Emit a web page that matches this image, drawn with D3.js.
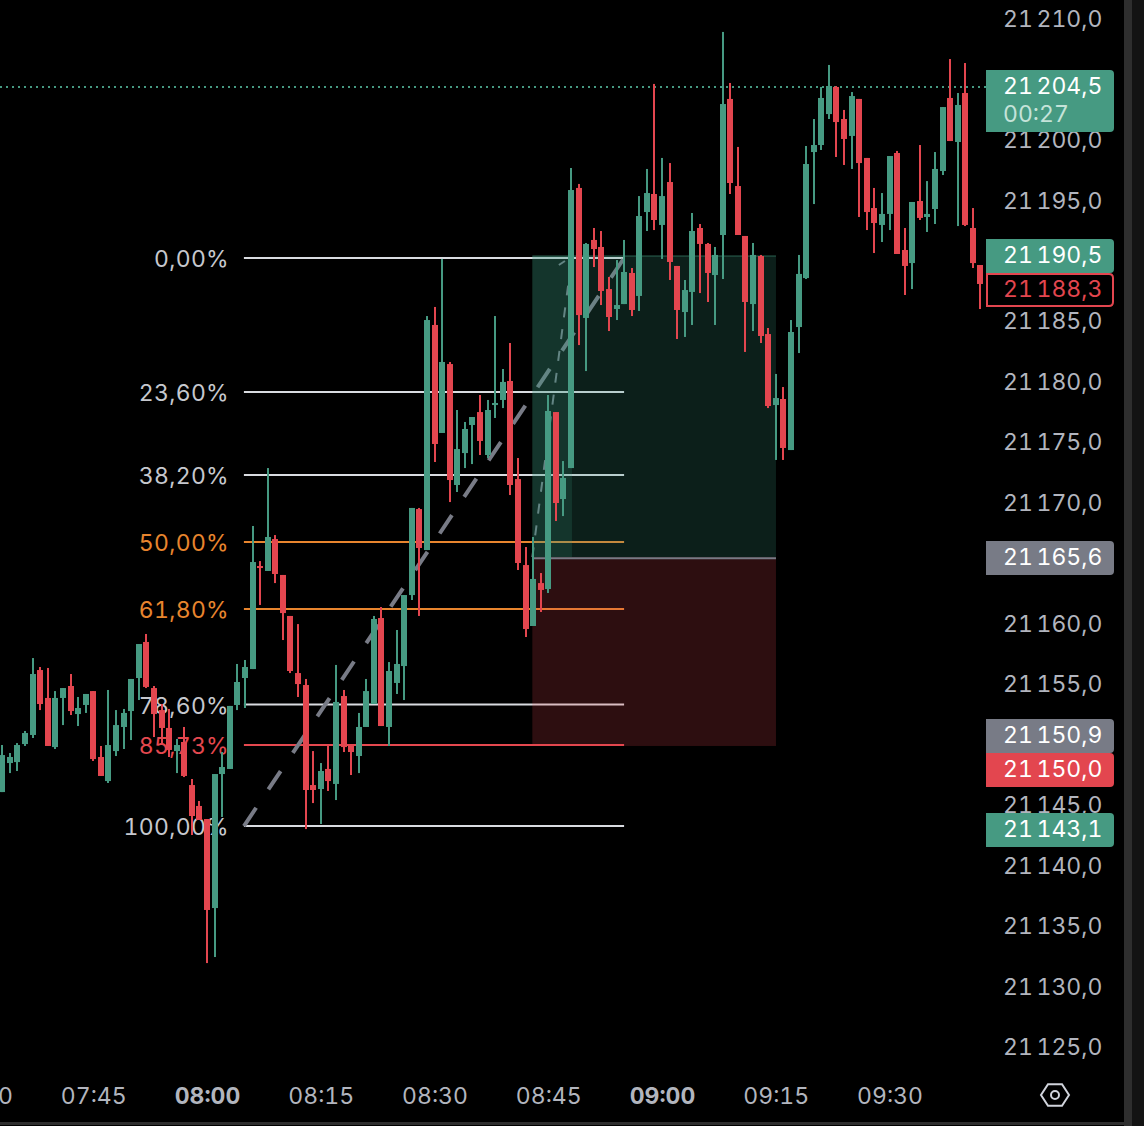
<!DOCTYPE html>
<html><head><meta charset="utf-8">
<script src="https://cdnjs.cloudflare.com/ajax/libs/d3/7.8.5/d3.min.js"></script>
<style>html,body{margin:0;padding:0;background:#000;overflow:hidden}svg{display:block}text{font-family:Inter,"Noto Sans",sans-serif;letter-spacing:0;word-spacing:-2.5px;font-variant-numeric:tabular-nums;font-feature-settings:"tnum" 1}.fibtxt{letter-spacing:0.3px}</style>
</head><body><svg id="c" width="1144" height="1126"></svg>
<script>
const firstMinute = 453; // 07:33
const opens = [21146.08,21148.48,21148.56,21150.05,21150.80,21156.17,21153.86,21149.80,21153.86,21154.85,21152.53,21153.28,21154.43,21148.98,21146.99,21149.47,21151.46,21152.78,21155.51,21158.49,21154.68,21152.86,21151.38,21149.47,21150.22,21146.66,21144.93,
21143.85,21136.49,21147.57,21147.99,21153.28,21155.51,21156.25,21164.77,21164.36,21167.00,21164.03,21160.64,21155.92,21154.93,21146.66,21146.33,21147.99,21146.75,21154.02,21149.97,21149.06,21151.46,21153.36,21160.47,21151.46,21155.10,21156.50,21162.37,21169.48,21166.09,21184.70,21175.77,21181.47,21171.47,21174.11,21176.43,21177.50,21173.95,21178.08,21178.50,21180.07,21171.96,21164.85,21159.81,21163.36,21162.87,21177.50,21170.31,21172.87,21196.03,21185.28,21191.73,21191.15,21187.67,21186.02,21186.43,21189.00,21187.10,21194.04,21195.53,21192.97,21196.52,21189.58,21185.77,21187.43,21192.72,21191.40,21188.83,21192.14,21203.39,21196.19,21192.06,21186.43,21190.40,21183.95,21178.08,21178.58,21174.36,21184.53,21188.58,21199.00,21199.58,21202.14,21204.38,21201.73,21200.33,21203.39,21198.51,21194.37,21192.97,21193.88,21198.92,21190.90,21189.82,21194.95,21193.63,21194.29,21197.43,21203.47,21199.83,21203.88,21192.72,21189.66];
const highs = [21149.97,21149.31,21150.13,21151.13,21157.16,21156.42,21156.34,21154.43,21154.68,21155.84,21153.94,21154.19,21154.43,21149.89,21154.52,21152.86,21152.95,21155.43,21158.32,21159.15,21154.85,21153.36,21152.95,21150.47,21151.46,21147.16,21145.34,
21143.85,21147.57,21149.39,21153.20,21156.67,21157.00,21168.08,21165.18,21172.87,21167.33,21164.03,21160.64,21159.97,21155.43,21149.47,21148.48,21149.97,21156.59,21154.52,21149.97,21152.62,21155.43,21160.64,21161.38,21156.83,21159.48,21162.37,21169.57,21169.57,21185.44,21186.19,21190.16,21181.64,21177.67,21176.68,21177.09,21178.91,21178.50,21185.44,21181.06,21183.21,21173.70,21166.34,21167.17,21164.19,21178.91,21177.50,21173.45,21197.68,21196.36,21191.48,21192.72,21192.47,21188.67,21190.07,21191.73,21189.41,21195.36,21197.60,21204.63,21198.51,21198.09,21189.58,21188.42,21193.96,21193.05,21191.48,21191.15,21208.93,21204.71,21199.42,21192.06,21191.48,21190.49,21184.45,21180.65,21179.57,21185.11,21190.49,21199.50,21201.73,21204.38,21206.20,21204.46,21202.48,21203.96,21203.39,21198.51,21196.03,21195.61,21198.67,21199.09,21192.72,21194.87,21199.58,21196.60,21199.00,21202.72,21206.69,21203.88,21206.36,21194.37,21189.66];
const lows = [21146.08,21147.65,21147.82,21149.89,21150.55,21152.86,21149.89,21149.64,21151.62,21152.45,21151.54,21152.62,21148.65,21147.41,21146.83,21149.06,21149.64,21150.38,21153.69,21154.68,21150.63,21149.97,21148.98,21147.65,21147.32,21142.53,21143.77,
21131.94,21132.44,21144.02,21147.99,21152.86,21153.03,21156.25,21161.55,21164.36,21163.36,21158.65,21155.92,21153.94,21143.02,21145.17,21143.44,21146.17,21145.42,21149.39,21147.49,21147.65,21151.46,21153.36,21151.54,21149.89,21154.19,21153.69,21161.96,21160.64,21166.09,21173.37,21175.77,21170.06,21170.89,21172.87,21173.20,21173.95,21173.70,21177.01,21177.83,21170.64,21164.44,21158.90,21159.81,21160.97,21162.54,21168.49,21168.90,21172.87,21183.04,21180.89,21189.49,21186.35,21184.20,21185.11,21186.43,21185.44,21185.86,21192.47,21192.55,21190.16,21188.42,21183.54,21183.71,21184.70,21187.34,21186.60,21184.70,21188.50,21195.53,21192.14,21182.47,21184.20,21183.21,21177.83,21173.54,21173.54,21174.36,21182.38,21188.50,21194.70,21199.17,21201.73,21198.59,21197.93,21197.60,21193.63,21192.55,21190.65,21191.56,21192.55,21190.57,21187.18,21187.67,21193.38,21192.39,21193.05,21197.10,21199.91,21192.88,21192.88,21189.41,21186.02];
const closes = [21149.14,21148.98,21149.97,21150.96,21155.84,21153.36,21149.89,21153.86,21154.68,21152.78,21153.03,21154.19,21148.81,21147.41,21149.97,21151.62,21152.62,21155.43,21158.32,21154.77,21152.53,21151.38,21149.56,21149.97,21147.41,21144.10,21143.77,
21136.33,21147.57,21148.15,21153.20,21155.18,21156.42,21165.10,21164.61,21167.17,21164.11,21160.88,21156.09,21155.01,21146.25,21146.25,21147.82,21146.99,21153.53,21149.80,21149.39,21151.46,21154.43,21160.39,21151.54,21156.09,21156.67,21162.37,21169.57,21166.26,21185.11,21174.86,21181.64,21171.88,21174.44,21176.10,21177.09,21175.11,21177.67,21178.25,21179.99,21171.47,21165.02,21159.56,21163.70,21162.79,21177.59,21169.98,21172.05,21195.86,21185.52,21191.40,21190.98,21187.51,21185.36,21186.35,21189.08,21185.94,21193.71,21195.61,21193.38,21195.36,21189.91,21185.94,21187.59,21192.47,21191.40,21189.00,21190.49,21202.97,21196.44,21192.14,21186.60,21190.49,21183.79,21178.00,21178.66,21174.53,21184.12,21188.92,21198.01,21199.58,21203.47,21204.46,21201.48,21200.08,21203.63,21198.09,21194.04,21193.13,21193.88,21198.67,21190.57,21189.58,21194.87,21193.55,21193.88,21197.60,21202.72,21199.91,21202.89,21192.97,21189.82,21188.09];

const priceTicks = d3.range(21125, 21211, 5);
const timeTickMinutes = [450,465,480,495,510,525,540,555,570];
const timeTickLabels = ["07:30","07:45","08:00","08:15","08:30","08:45","09:00","09:15","09:30"];
const boldTimes = ["08:00","09:00"];

const fibHigh = 21190.24, fibLow = 21143.27, fibStart = 485, fibEnd = 535;
const fibLevels = [0,23.6,38.2,50,61.8,78.6,85.73,100];
const fibLabels = ["0,00%","23,60%","38,20%","50,00%","61,80%","78,60%","85,73%","100,00%"];
const fibKinds  = ["w","w","w","o","o","w","r","w"];

const posStart = 522.9, posEnd = 555.03, posFilledEnd = 528.13;
const posTop = 21190.40, posEntry = 21165.50, posStop = 21149.89;
const stubTimes = [526.4,527.2], stubPrices = [21189.66,21189.99];
const lastPrice = 21204.5;

const tagLabels = ["21 204,5","21 190,5","21 188,3","21 165,6","21 150,9","21 150,0","21 143,1"];
const tagKinds  = ["g","g","o","n","n","r","g"];
const countdown = "00:27";

const GREEN="#469a82", RED="#e3464f", GRAY="#787b86", TXT="#b2b5be", WHITE="#d9dbe0", ORANGE="#e8852e", FIBTXT="#c6c8ce";

const svg = d3.select("#c");
const x = d3.scaleLinear().domain([480,540]).range([207,662]);
const y = d3.scaleLinear().domain([21210,21125]).range([19,1047]);
const fmt = d3.formatLocale({decimal:",",thousands:" ",grouping:[3],currency:["",""]}).format(",.1f");

svg.append("rect").attr("width",1144).attr("height",1126).attr("fill","#000");

// y axis
const ya = svg.append("g").attr("transform","translate(1003,0)")
  .call(d3.axisRight(y).tickValues(priceTicks).tickSize(0).tickPadding(0).tickFormat(fmt));
ya.select(".domain").remove();
ya.selectAll("text").attr("x",0).attr("fill",TXT).attr("font-size",23).attr("dy","0.33em").style("font-family","Inter");

// x axis
const xa = svg.append("g").attr("transform","translate(0,1096)")
  .call(d3.axisBottom(x).tickValues(timeTickMinutes).tickSize(0).tickPadding(0).tickFormat((d,i)=>timeTickLabels[i]));
xa.select(".domain").remove();
xa.selectAll("text").attr("y",0).attr("dy","0.36em").attr("fill",TXT).attr("font-size",23)
  .attr("font-weight",d=>boldTimes.includes(timeTickLabels[timeTickMinutes.indexOf(d)])?700:400).style("font-family","Inter");

// fib
const fibY = l => y(fibHigh - (fibHigh-fibLow)*l/100);
const fibCol = k => k==="o"?ORANGE:k==="r"?"#e5484f":WHITE;
const fibTxt = k => k==="w"?FIBTXT:fibCol(k);
const fib = svg.append("g");
fib.selectAll("line").data(fibLevels).join("line")
  .attr("x1",x(fibStart)-1).attr("x2",x(fibEnd)).attr("y1",d=>fibY(d)).attr("y2",d=>fibY(d))
  .attr("stroke",(d,i)=>fibCol(fibKinds[i])).attr("stroke-width",2);
fib.selectAll("text").data(fibLevels).join("text").attr("class","fibtxt")
  .attr("x",229).attr("y",d=>fibY(d)+1).attr("dy","0.36em").attr("text-anchor","end").attr("font-size",23)
  .attr("fill",(d,i)=>fibTxt(fibKinds[i])).text((d,i)=>fibLabels[i]);

// dashed trend lines
svg.append("line").attr("x1",x(fibStart)-1).attr("y1",y(fibLow)).attr("x2",x(fibEnd)).attr("y2",y(fibHigh))
  .attr("stroke",GRAY).attr("stroke-width",4).attr("stroke-dasharray","22 22");
svg.append("line").attr("x1",x(posStart)).attr("y1",y(posEntry)).attr("x2",x(posFilledEnd)).attr("y2",y(posTop))
  .attr("stroke",GRAY).attr("stroke-width",2).attr("stroke-dasharray","10 12");
svg.append("line").attr("x1",x(stubTimes[0])).attr("y1",y(stubPrices[0])).attr("x2",x(stubTimes[1])).attr("y2",y(stubPrices[1]))
  .attr("stroke",GRAY).attr("stroke-width",2);

// position tool
const FILL="#3d9c80";
svg.append("rect").attr("x",x(posStart)).attr("width",x(posEnd)-x(posStart)).attr("y",y(posTop)).attr("height",y(posEntry)-y(posTop)).attr("fill",FILL).attr("fill-opacity",0.2);
svg.append("rect").attr("x",x(posStart)).attr("width",x(posFilledEnd)-x(posStart)).attr("y",y(posTop)).attr("height",y(posEntry)-y(posTop)).attr("fill",FILL).attr("fill-opacity",0.18);
svg.append("rect").attr("x",x(posStart)).attr("width",x(posEnd)-x(posStart)).attr("y",y(posEntry)).attr("height",y(posStop)-y(posEntry)).attr("fill","#e3464f").attr("fill-opacity",0.2);
svg.append("line").attr("x1",x(posStart)).attr("x2",x(posEnd)).attr("y1",y(posTop)).attr("y2",y(posTop)).attr("stroke",GREEN).attr("stroke-opacity",0.3).attr("stroke-width",2);
svg.append("line").attr("x1",x(posStart)).attr("x2",x(posEnd)).attr("y1",y(posEntry)+1).attr("y2",y(posEntry)+1).attr("stroke",GRAY).attr("stroke-width",2);

// last price line
svg.append("line").attr("x1",0).attr("x2",986).attr("y1",y(lastPrice)+1.5).attr("y2",y(lastPrice)+1.5)
  .attr("stroke",GREEN).attr("stroke-width",2).attr("stroke-dasharray","2 4");

// candles
const candles = opens.map((o,i)=>({m:firstMinute+i,o,h:highs[i],l:lows[i],c:closes[i]}));
const cg = svg.append("g").selectAll("g").data(candles).join("g").attr("fill",d=>d.c>=d.o?GREEN:RED);
cg.append("rect").attr("x",d=>Math.round(x(d.m))-1).attr("width",2).attr("y",d=>y(d.h)).attr("height",d=>y(d.l)-y(d.h));
cg.append("rect").attr("x",d=>Math.round(x(d.m))-3).attr("width",6)
  .attr("y",d=>y(Math.max(d.o,d.c))).attr("height",d=>Math.max(2,Math.abs(y(d.o)-y(d.c))));

// tags
const tagTop=[70,239,273,541,719,753,813], tagH=[62,34,34,34,34,34,34];
const tagFill = {g:GREEN,o:"#000",n:GRAY,r:RED};
const tags = svg.append("g").selectAll("g").data(tagLabels).join("g");
tags.append("path").attr("d",(d,i)=>{const t=tagTop[i],h=tagH[i],l=986,r=1114,k=4;
   const off=tagKinds[i]==="o"?1:0;
   return `M${l+off},${t+off}H${r-k-off}Q${r-off},${t+off} ${r-off},${t+k+off}V${t+h-k-off}Q${r-off},${t+h-off} ${r-k-off},${t+h-off}H${l+off}Z`;})
  .attr("fill",(d,i)=>tagFill[tagKinds[i]]).attr("stroke",(d,i)=>tagKinds[i]==="o"?RED:"none").attr("stroke-width",2);
tags.append("text").attr("x",1003).attr("y",(d,i)=>tagTop[i]+16).attr("dy","0.36em").attr("font-size",23)
  .attr("fill",(d,i)=>tagKinds[i]==="o"?RED:"#fff").text(d=>d);
svg.append("text").attr("x",1003).attr("y",114).attr("dy","0.36em").attr("font-size",23).attr("fill","#c5e3d9").text(countdown);

// frame
svg.append("rect").attr("x",1124).attr("y",0).attr("width",8).attr("height",1126).attr("fill","#2e2e2e");
svg.append("rect").attr("x",1132).attr("y",0).attr("width",12).attr("height",1126).attr("fill","#131313");
svg.append("rect").attr("x",0).attr("y",1122).attr("width",1124).attr("height",3).attr("fill","#2e2e2e");

// settings icon
const hex = d3.line()(d3.range(6).map(i=>{const a=i*Math.PI/3;return [1055+14*Math.cos(a),1095+12.5*Math.sin(a)];}));
svg.append("path").attr("d",hex+"Z").attr("fill","none").attr("stroke","#d1d4dc").attr("stroke-width",2);
svg.append("circle").attr("cx",1055).attr("cy",1095).attr("r",4).attr("fill","none").attr("stroke","#d1d4dc").attr("stroke-width",2);
</script></body></html>
